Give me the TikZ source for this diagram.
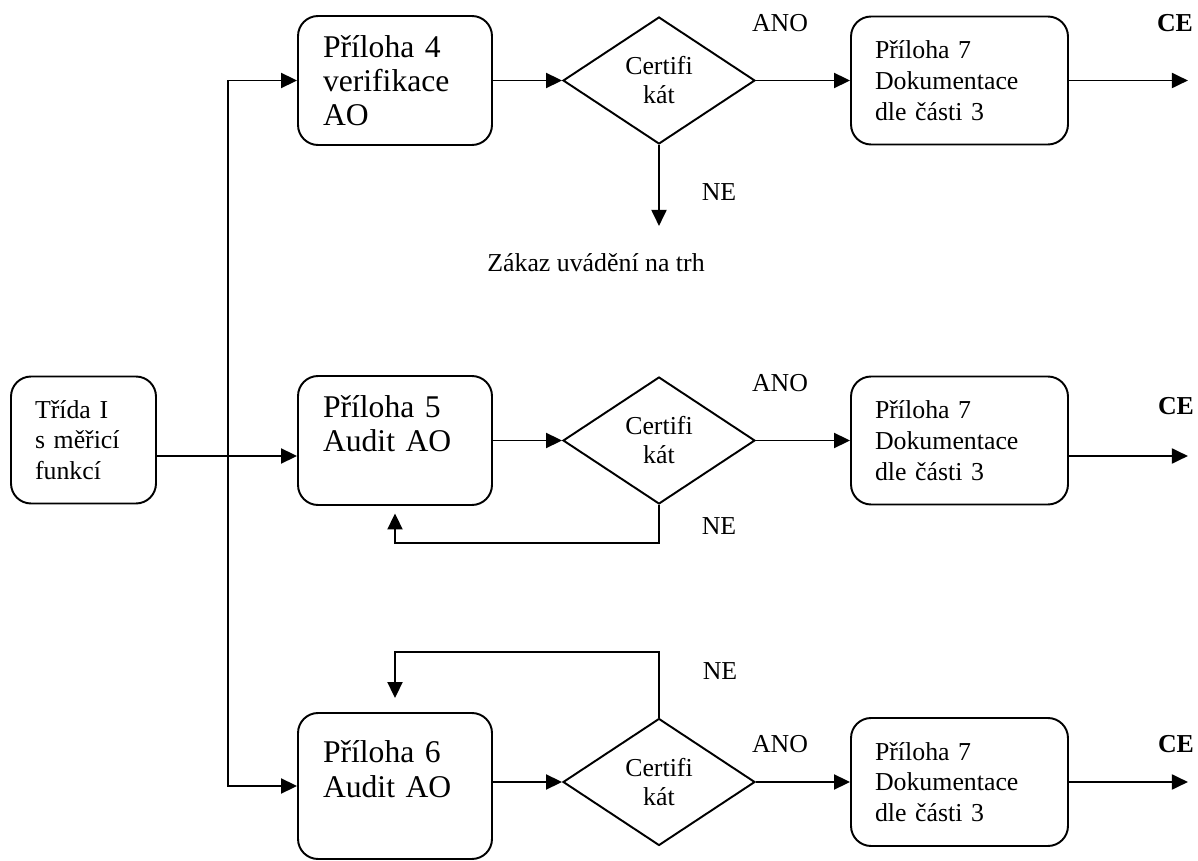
\documentclass[tikz,border=0pt]{standalone}
\usepackage{fontspec}
\setmainfont{Liberation Serif}
\usetikzlibrary{arrows.meta,shapes.geometric}

\begin{document}
\begin{tikzpicture}[x=0.02cm, y=-0.02cm, line width=1.1pt,
    arr/.style={-{Triangle[length=0.32cm,width=0.3cm]}},
    classbox/.style={draw, rounded corners=0.4cm, align=left, inner xsep=0.48cm, text width=1.94cm, minimum height=2.54cm, font=\fontsize{14.7}{17.4}\selectfont},
    annexbox/.style={draw, rounded corners=0.4cm, align=left, inner xsep=0.5cm, text width=2.88cm, minimum height=2.58cm, font=\fontsize{18}{19.5}\selectfont},
    docbox/.style={draw, rounded corners=0.4cm, align=left, inner xsep=0.48cm, text width=3.38cm, minimum height=2.56cm, font=\fontsize{14.7}{17.5}\selectfont},
    decision/.style={draw, diamond, aspect=1.5, inner sep=0pt, minimum width=3.84cm, minimum height=2.54cm, align=center, font=\fontsize{14.7}{16.5}\selectfont},
    lbl/.style={font=\fontsize{14.7}{17.5}\selectfont},
    celbl/.style={font=\fontsize{14.7}{17.5}\selectfont\bfseries}]
    \useasboundingbox (0,0) rectangle (1198,861);

    % Starting class
    \node[classbox] (trida) at (83.5,440) {Třída I\\s měřicí\\funkcí};

    % Annex boxes
    \node[annexbox] (p4) at (395,80.5) {Příloha 4\\verifikace\\AO};
    \node[annexbox] (p5) at (395,440.5) {Příloha 5\\Audit AO\\\mbox{}};
    \node[annexbox, minimum height=2.92cm] (p6) at (395,786) {Příloha 6\\Audit AO\\\mbox{}};

    % Certificate decisions
    \node[decision] (c4) at (659,80.5) {Certifi\\kát};
    \node[decision] (c5) at (659,440.5) {Certifi\\kát};
    \node[decision] (c6) at (659,782) {Certifi\\kát};

    % Documentation boxes
    \node[docbox] (d4) at (959.5,80.5) {Příloha 7\\Dokumentace\\dle části 3};
    \node[docbox] (d5) at (959.5,440.5) {Příloha 7\\Dokumentace\\dle části 3};
    \node[docbox] (d6) at (959.5,782) {Příloha 7\\Dokumentace\\dle části 3};

    % Branching trunk
    \coordinate (split) at (228,456);
    \draw[arr] (trida.east |- split) -- (p5.west |- split);
    \draw[arr] (split) |- (p4.west);
    \draw[arr] (split) |- (p6.west);

    % Rows
    \draw[arr] (p4) -- (c4);
    \draw[arr] (c4) -- (d4);
    \draw[arr] (d4.east) -- ++(119,0);
    \draw[arr] (p5) -- (c5);
    \draw[arr] (c5) -- (d5);
    \draw[arr] (d5.east |- split) -- ++(119,0);
    \draw[arr] (p6.east |- c6) -- (c6);
    \draw[arr] (c6) -- (d6);
    \draw[arr] (d6.east) -- ++(119,0);

    % Rejections and loops back
    \draw[arr] (c4.south) -- ++(0,81);
    \node[lbl, anchor=base] (zakaz) at (596,272) {Zákaz uvádění na trh};
    \coordinate (loop5) at (395,543);
    \draw[arr, shorten >=0.15cm] (c5.south) |- (loop5) -- (loop5 |- p5.south);
    \coordinate (loop6) at (395,652);
    \draw[arr, shorten >=0.28cm] (c6.north) |- (loop6) -- (loop6 |- p6.north);

    % Labels
    \node[lbl] (ano4) at (780,23.5) {ANO};
    \node[lbl] (ano5) at (780,383.5) {ANO};
    \node[lbl] (ano6) at (780,744.5) {ANO};
    \node[lbl] (ne4) at (719,192) {NE};
    \node[lbl] (ne5) at (719,526) {NE};
    \node[lbl] (ne6) at (720,671) {NE};
    \node[celbl] (ce4) at (1175,23) {CE};
    \node[celbl] (ce5) at (1176,406.5) {CE};
    \node[celbl] (ce6) at (1176,744) {CE};
\end{tikzpicture}
\end{document}
